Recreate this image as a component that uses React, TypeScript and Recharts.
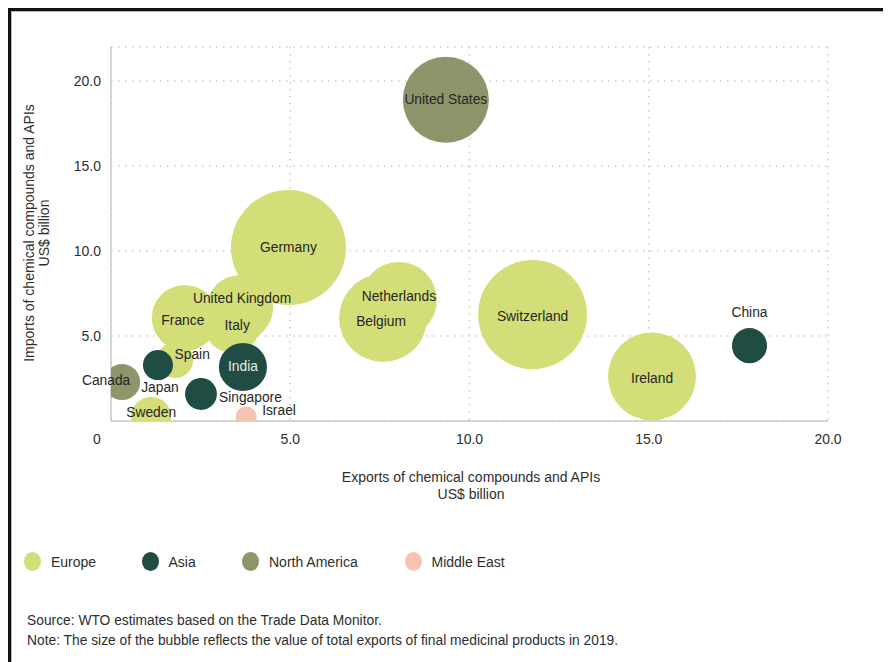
import { ScatterChart, Scatter, XAxis, YAxis, ZAxis, CartesianGrid } from "recharts";

// chemical compounds & APIs trade, US$ billion, bubble = final medicinal exports 2019
const countries = [
  "Germany", "Switzerland", "Ireland", "Belgium", "Netherlands", "United Kingdom", "France", "Italy", "Spain", "Sweden",
  "China", "India", "Japan", "Singapore",
  "United States", "Canada",
  "Israel",
];
const regions = [
  "Europe", "Europe", "Europe", "Europe", "Europe", "Europe", "Europe", "Europe", "Europe", "Europe",
  "Asia", "Asia", "Asia", "Asia",
  "North America", "North America",
  "Middle East",
];
const chemExports = [4.95, 11.76, 15.09, 7.59, 8.03, 3.6, 2.06, 3.38, 1.79, 1.12, 17.81, 3.68, 1.31, 2.51, 9.34, 0.31, 3.77];
const chemImports = [10.2, 6.26, 2.62, 6.06, 7.12, 6.65, 6.06, 5.65, 3.59, 0.24, 4.43, 3.18, 3.29, 1.59, 18.9, 2.29, 0.24];
const medicinalExports = [60, 53.9, 35.1, 35.1, 26.2, 19.8, 19.8, 14.2, 5.9, 7.3, 5.6, 10.5, 4.1, 4.6, 33.6, 5.9, 2.0];

const regionNames = ["Europe", "Asia", "North America", "Middle East"];
const xTicks = [0, 5, 10, 15, 20];
const yTicks = [5, 10, 15, 20];

const regionColors: Record<string, string> = {
  Europe: "#d4de78",
  Asia: "#1f4d43",
  "North America": "#8e956a",
  "Middle East": "#f4c3b3",
};

// where each bubble's name sits relative to the bubble centre
const labelPlace: Record<string, { dx: number; dy: number; anchor?: "start" | "middle" | "end"; color?: string }> = {
  "United States": { dx: 0, dy: 0 },
  Germany: { dx: 0, dy: 0 },
  "United Kingdom": { dx: 2, dy: -9 },
  France: { dx: -2, dy: 3 },
  Italy: { dx: 5, dy: 1 },
  Netherlands: { dx: 0, dy: -3 },
  Belgium: { dx: -2, dy: 4 },
  Switzerland: { dx: 0, dy: 2 },
  Ireland: { dx: 0, dy: 2 },
  China: { dx: 0, dy: -33 },
  Spain: { dx: 17, dy: -5 },
  India: { dx: 0, dy: 0, color: "#e4ebe6" },
  Canada: { dx: -16, dy: -2 },
  Japan: { dx: 2, dy: 22 },
  Singapore: { dx: 18, dy: 4, anchor: "start" },
  Israel: { dx: 16, dy: -6, anchor: "start" },
  Sweden: { dx: 0, dy: -4 },
};

const rows = countries.map((name, i) => ({
  name,
  region: regions[i],
  x: chemExports[i],
  y: chemImports[i],
  z: medicinalExports[i],
}));

const FONT = '"Liberation Sans", Arial, Helvetica, sans-serif';
const TEXT = "#2e2e2e";

const XTick = ({ x, y, payload }: any) => (
  <text x={payload.value === 0 ? x - 14 : x} y={y} dy="0.71em" textAnchor="middle" fontSize={14} fill={TEXT} fontFamily={FONT}>
    {payload.value === 0 ? "0" : payload.value.toFixed(1)}
  </text>
);

const YTick = ({ x, y, payload }: any) => (
  <text x={x} y={y} dy="0.355em" textAnchor="end" fontSize={14} fill={TEXT} fontFamily={FONT}>
    {payload.value.toFixed(1)}
  </text>
);

const NameLabel = (props: any) => {
  const { cx, cy, payload } = props;
  const p = labelPlace[payload.name] || { dx: 0, dy: 0 };
  return (
    <text
      x={cx + p.dx}
      y={cy + p.dy}
      textAnchor={p.anchor || "middle"}
      dominantBaseline="central"
      fontSize={13.8}
      fill={p.color || "#262626"}
      fontFamily={FONT}
    >
      {payload.name}
    </text>
  );
};

export default function App() {
  return (
    <div style={{ position: "relative", width: 883, height: 654, fontFamily: FONT, color: TEXT, background: "#fff" }}>
      <ScatterChart width={883} height={460} margin={{ top: 39, right: 63, bottom: 17, left: 63 }}>
        <CartesianGrid stroke="#cccccc" strokeWidth={1.5} strokeDasharray="1.5 5.5" />
        <XAxis
          type="number"
          dataKey="x"
          domain={[0, 20]}
          ticks={xTicks}
          allowDataOverflow
          height={30}
          tickLine={false}
          tickSize={0}
          tickMargin={13}
          tick={<XTick />}
          axisLine={{ stroke: "#c8c8c8", strokeWidth: 1.5 }}
        />
        <YAxis
          type="number"
          dataKey="y"
          domain={[0, 22]}
          ticks={yTicks}
          allowDataOverflow
          width={40}
          tickLine={false}
          tickSize={0}
          tickMargin={10}
          tick={<YTick />}
          axisLine={{ stroke: "#c8c8c8", strokeWidth: 1.5 }}
        />
        <XAxis xAxisId="lbl" type="number" dataKey="x" domain={[0, 20]} hide />
        <YAxis yAxisId="lbl" type="number" dataKey="y" domain={[0, 22]} hide />
        <ZAxis type="number" dataKey="z" domain={[0, 60]} range={[0, 10387]} />
        {["Europe", "North America", "Asia", "Middle East"].map((r) => (
          <Scatter
            key={r}
            name={r}
            data={rows.filter((d) => d.region === r)}
            fill={regionColors[r]}
            isAnimationActive={false}
          />
        ))}
        <Scatter
          name="labels"
          xAxisId="lbl"
          yAxisId="lbl"
          data={rows}
          shape={<NameLabel />}
          isAnimationActive={false}
        />
      </ScatterChart>

      {/* y axis title */}
      <div style={{ position: "absolute", left: 29, top: 225, width: 0, height: 0 }}>
        <div
          style={{
            position: "absolute",
            transform: "translate(-50%, -50%) rotate(-90deg)",
            whiteSpace: "nowrap",
            textAlign: "center",
            fontSize: 14,
            lineHeight: "15px",
          }}
        >
          Imports of chemical compounds and APIs
          <br />
          US$ billion
        </div>
      </div>

      {/* x axis title */}
      <div
        style={{
          position: "absolute",
          left: 263,
          width: 400,
          top: 461,
          textAlign: "center",
          fontSize: 14,
          lineHeight: "17px",
        }}
      >
        Exports of chemical compounds and APIs
        <br />
        US$ billion
      </div>

      {/* legend */}
      <div style={{ position: "absolute", top: 544, left: 0, height: 20 }}>
        {regionNames.map((r, i) => {
          const cxs = [25, 142.5, 243, 405.5];
          return (
            <div key={r} style={{ position: "absolute", left: cxs[i] - 9, top: 0, display: "flex", alignItems: "center", whiteSpace: "nowrap" }}>
              <span style={{ display: "inline-block", width: 17, height: 19, borderRadius: "50%", background: regionColors[r] }} />
              <span style={{ marginLeft: 10, fontSize: 14 }}>{r}</span>
            </div>
          );
        })}
      </div>

      {/* notes */}
      <div style={{ position: "absolute", left: 19, top: 603, fontSize: 13.8, lineHeight: "20px" }}>
        <div>Source: WTO estimates based on the Trade Data Monitor.</div>
        <div>Note: The size of the bubble reflects the value of total exports of final medicinal products in 2019.</div>
      </div>

      {/* frame */}
      <div style={{ position: "absolute", left: 0, top: 0, width: 883, height: 3, background: "#111" }} />
      <div style={{ position: "absolute", left: 0, top: 0, width: 3, height: 654, background: "#111" }} />
      <div style={{ position: "absolute", left: 3, top: 3, width: 880, height: 1, background: "#e8a0a0" }} />
      <div style={{ position: "absolute", left: 3, top: 3, width: 1, height: 651, background: "#e8a0a0" }} />
    </div>
  );
}
